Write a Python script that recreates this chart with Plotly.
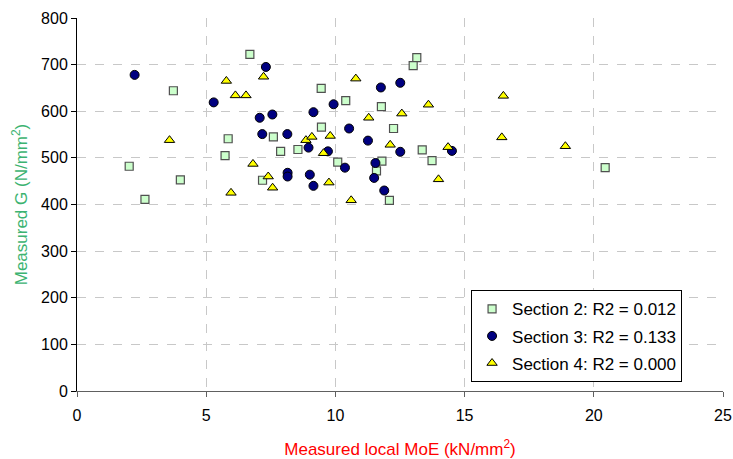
import plotly.graph_objects as go

# Section 2
s2_moe = [6.69, 3.73, 5.85, 7.6, 7.88, 8.55, 5.73, 2.02, 7.18, 4.0, 2.63, 13.15, 13.01,
          9.45, 10.40, 11.78, 9.46, 12.25, 13.36, 13.74, 10.09, 11.80, 11.59, 12.09, 20.44]
s2_g = [722, 644, 541, 545, 514, 518, 505, 482, 452, 453, 411, 715, 698,
        649, 623, 610, 566, 563, 517, 494, 491, 493, 472, 409, 479]

# Section 3
s3_moe = [7.31, 2.23, 5.29, 7.07, 7.56, 7.17, 8.14, 8.15, 8.15, 12.51, 11.76, 9.93, 9.15,
          10.53, 11.26, 8.96, 9.71, 12.51, 14.51, 10.37, 11.55, 9.01, 9.15, 11.50, 11.89]
s3_g = [695, 678, 619, 586, 593, 551, 551, 468, 460, 661, 651, 615, 598,
        563, 537, 522, 514, 513, 515, 479, 489, 464, 440, 457, 430]

# Section 4
s4_moe = [5.78, 7.22, 6.13, 6.54, 3.58, 8.86, 6.81, 7.4, 7.57, 5.96, 10.79, 13.60, 11.29,
          12.57, 9.09, 9.80, 9.54, 12.12, 14.36, 9.75, 13.99, 10.61, 16.5, 16.44, 18.90]
s4_g = [665, 674, 634, 634, 538, 538, 487, 460, 436, 425, 670, 614, 586,
        595, 545, 547, 510, 528, 523, 447, 454, 409, 633, 544, 525]

names = ["Section 2: R2 = 0.012", "Section 3: R2 = 0.133", "Section 4: R2 = 0.000"]

fig = go.Figure()
fig.add_trace(go.Scatter(x=s2_moe, y=s2_g, mode="markers", name=names[0], legendgroup="s2",
                         marker=dict(symbol="square", size=8, color="#ccffcc",
                                     line=dict(color="#505050", width=1.2))))
fig.add_trace(go.Scatter(x=s3_moe, y=s3_g, mode="markers", name=names[1], legendgroup="s3",
                         marker=dict(symbol="circle", size=9, color="#000080",
                                     line=dict(color="#000000", width=1))))
fig.add_trace(go.Scatter(x=s4_moe, y=s4_g, mode="markers", name=names[2], legendgroup="s4",
                         marker=dict(symbol="triangle-up", size=9, color="#ffff00",
                                     line=dict(color="#000000", width=1))))

fig.update_layout(
    width=733, height=459,
    margin=dict(l=77, r=10, t=18, b=68),
    plot_bgcolor="white", paper_bgcolor="white",
    font=dict(family="Arial, Liberation Sans", size=16, color="black"),
    showlegend=True,
    legend=dict(x=0.61, y=0.27, xanchor="left", yanchor="top",
                bordercolor="black", borderwidth=1, bgcolor="white",
                font=dict(size=17), tracegroupgap=2),
    xaxis=dict(range=[0, 25], dtick=5, ticks="outside", ticklen=5, tickcolor="#606060",
               showline=True, linecolor="#606060", linewidth=1, automargin=False,
               ticklabelstandoff=5,
               showgrid=True, gridcolor="#c8c8c8", griddash="dash", zeroline=False,
               title=dict(text="Measured local MoE (kN/mm<sup>2</sup>)",
                          font=dict(color="#ff0000", size=17), standoff=20)),
    yaxis=dict(range=[0, 800], dtick=100, ticks="outside", ticklen=5, tickcolor="black",
               showline=True, linecolor="black", linewidth=1, automargin=False,
               showgrid=True, gridcolor="#c8c8c8", griddash="dash", zeroline=False,
               title=dict(text="Measured G (N/mm<sup>2</sup>)",
                          font=dict(color="#3cb371", size=17), standoff=9)),
)

# drop the default 8px body margin so the figure fills the window exactly
fig.write_html("out.html", config={"displayModeBar": False},
               post_script="document.body.style.margin='0';")
